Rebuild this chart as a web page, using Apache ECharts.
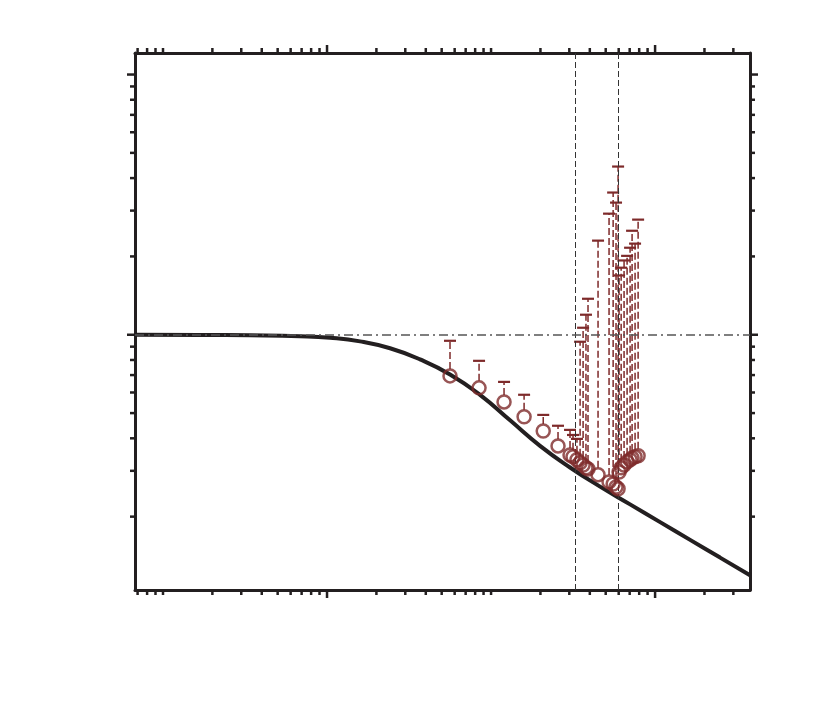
<!DOCTYPE html>
<html>
<head>
<meta charset="utf-8">
<script src="https://cdn.jsdelivr.net/npm/echarts@6/dist/echarts.min.js"></script>
<style>
html, body { margin: 0; padding: 0; background: #fff; }
#chart { width: 830px; height: 720px; }
</style>
</head>
<body>
<div id="chart"></div>
<script>
// axis ranges (log axes, no labels in the original)
var X_MIN = 0.0675, X_MAX = 379;
var Y_MIN = 0.1045, Y_MAX = 12.1;

// model curve
var curveX = [0.0675, 0.168, 0.339, 0.684, 1.043, 1.59, 2.422, 3.69, 5.623, 8.567,
              13.06, 19.89, 30.32, 46.2, 70.39, 107.3, 163.5, 249.1, 379];
var curveY = [1.0, 0.9982, 0.9947, 0.9868, 0.9738, 0.9433, 0.8873, 0.8042, 0.704, 0.5878,
              0.469, 0.3742, 0.309, 0.2608, 0.2229, 0.1905, 0.1628, 0.1392, 0.119];

// measured points and upper end of their error bars
var pointX = [5.62, 8.45, 12.0, 15.9, 20.8, 25.6, 30.3, 31.6, 33.4, 34.9, 36.4, 37.9, 39.0, 44.9,
              52.4, 55.5, 57.8, 59.5, 60.3, 62.1, 64.7, 67.5, 70.4, 72.4, 75.5, 78.8];
var pointY = [0.695, 0.625, 0.552, 0.484, 0.427, 0.374, 0.345, 0.340, 0.331, 0.322, 0.316, 0.308, 0.305, 0.290,
              0.272, 0.267, 0.260, 0.256, 0.297, 0.308, 0.316, 0.325, 0.331, 0.336, 0.340, 0.343];
var pointUpper = [0.948, 0.794, 0.659, 0.588, 0.492, 0.447, 0.431, 0.412, 0.398, 0.940, 1.064, 1.194, 1.375, 2.30,
                  2.92, 3.52, 3.22, 4.43, 1.69, 1.81, 1.93, 2.01, 2.16, 2.51, 2.24, 2.77];

// reference lines
var guideX = [32.5, 59.5];
var refY = 1;

// ticks
var xMajorTicks = [1, 100];
var xMinorTicks = [0.07, 0.08, 0.09, 0.1, 0.2, 0.3, 0.4, 0.5, 0.6, 0.7, 0.8, 0.9,
                   2, 3, 4, 5, 6, 7, 8, 9, 10, 20, 30, 40, 50, 60, 70, 80, 90, 200, 300];
var yMajorTicks = [1, 10];
var yMinorTicks = [0.2, 0.3, 0.4, 0.5, 0.6, 0.7, 0.8, 0.9, 2, 3, 4, 5, 6, 7, 8, 9];

var INK = '#231f20';
var RED = '#7e2a2a';

var chart = echarts.init(document.getElementById('chart'));

function seg(x1, y1, x2, y2, w) {
    return { type: 'line', shape: { x1: x1, y1: y1, x2: x2, y2: y2 }, style: { stroke: INK, lineWidth: w } };
}

function xTicks(len) {
    return function (params, api) {
        var v = api.value(0);
        var b = api.coord([v, Y_MIN]);
        var t = api.coord([v, Y_MAX]);
        return { type: 'group', children: [seg(b[0], b[1], b[0], b[1] + len, 2.5), seg(t[0], t[1], t[0], t[1] - len, 2.5)] };
    };
}

function yTicks(len) {
    return function (params, api) {
        var v = api.value(1);
        var l = api.coord([X_MIN, v]);
        var r = api.coord([X_MAX, v]);
        return { type: 'group', children: [seg(l[0], l[1], l[0] - len, l[1], 2.5), seg(r[0], r[1], r[0] + len, r[1], 2.5)] };
    };
}

function tickSeries(values, isX, len) {
    return {
        type: 'custom',
        silent: true,
        clip: false,
        z: 10,
        renderItem: isX ? xTicks(len) : yTicks(len),
        data: values.map(function (v) { return isX ? [v, 1] : [1, v]; })
    };
}

var hiddenAxis = {
    type: 'log',
    logBase: 10,
    axisLine: { show: true, onZero: false, lineStyle: { color: INK, width: 3 } },
    axisTick: { show: false },
    axisLabel: { show: false },
    splitLine: { show: false }
};

var xBottom = Object.assign({}, hiddenAxis, { position: 'bottom', min: X_MIN, max: X_MAX });
var xTop = Object.assign({}, hiddenAxis, { position: 'top', min: X_MIN, max: X_MAX });
var yLeft = Object.assign({}, hiddenAxis, { position: 'left', min: Y_MIN, max: Y_MAX });
var yRight = Object.assign({}, hiddenAxis, { position: 'right', min: Y_MIN, max: Y_MAX });

chart.setOption({
    animation: false,
    backgroundColor: '#fff',
    grid: { left: 135, top: 53, right: 80, bottom: 130, containLabel: false },
    xAxis: [xBottom, xTop],
    yAxis: [yLeft, yRight],
    series: [
        {
            type: 'line',
            data: curveX.map(function (x, i) { return [x, curveY[i]]; }),
            smooth: 0.5,
            symbol: 'none',
            lineStyle: { color: INK, width: 4 },
            z: 3,
            markLine: {
                silent: true,
                symbol: 'none',
                label: { show: false },
                data: [
                    { xAxis: guideX[0], lineStyle: { color: '#333', width: 1, type: [6, 3] } },
                    { xAxis: guideX[1], lineStyle: { color: '#333', width: 1, type: [6, 3] } },
                    { yAxis: refY, lineStyle: { color: '#555', width: 1.5, type: [9, 4, 2, 4] } }
                ]
            }
        },
        {
            type: 'custom',
            silent: true,
            z: 4,
            renderItem: function (params, api) {
                var c = api.coord([api.value(0), api.value(1)]);
                var t = api.coord([api.value(0), api.value(2)]);
                return {
                    type: 'group',
                    children: [
                        { type: 'line', shape: { x1: c[0], y1: c[1] - 7, x2: t[0], y2: t[1] }, style: { stroke: RED, lineWidth: 1.5, lineDash: [7, 3] } },
                        { type: 'line', shape: { x1: t[0] - 6, y1: t[1], x2: t[0] + 6, y2: t[1] }, style: { stroke: RED, lineWidth: 2.2 } }
                    ]
                };
            },
            data: pointX.map(function (x, i) { return [x, pointY[i], pointUpper[i]]; })
        },
        {
            type: 'scatter',
            symbol: 'circle',
            symbolSize: 13,
            itemStyle: { color: 'rgba(0,0,0,0)', borderColor: RED, borderWidth: 2.5 },
            z: 5,
            data: pointX.map(function (x, i) { return [x, pointY[i]]; })
        },
        tickSeries(xMajorTicks, true, 8),
        tickSeries(xMinorTicks, true, 5),
        tickSeries(yMajorTicks, false, 8),
        tickSeries(yMinorTicks, false, 5)
    ]
});
</script>
</body>
</html>
